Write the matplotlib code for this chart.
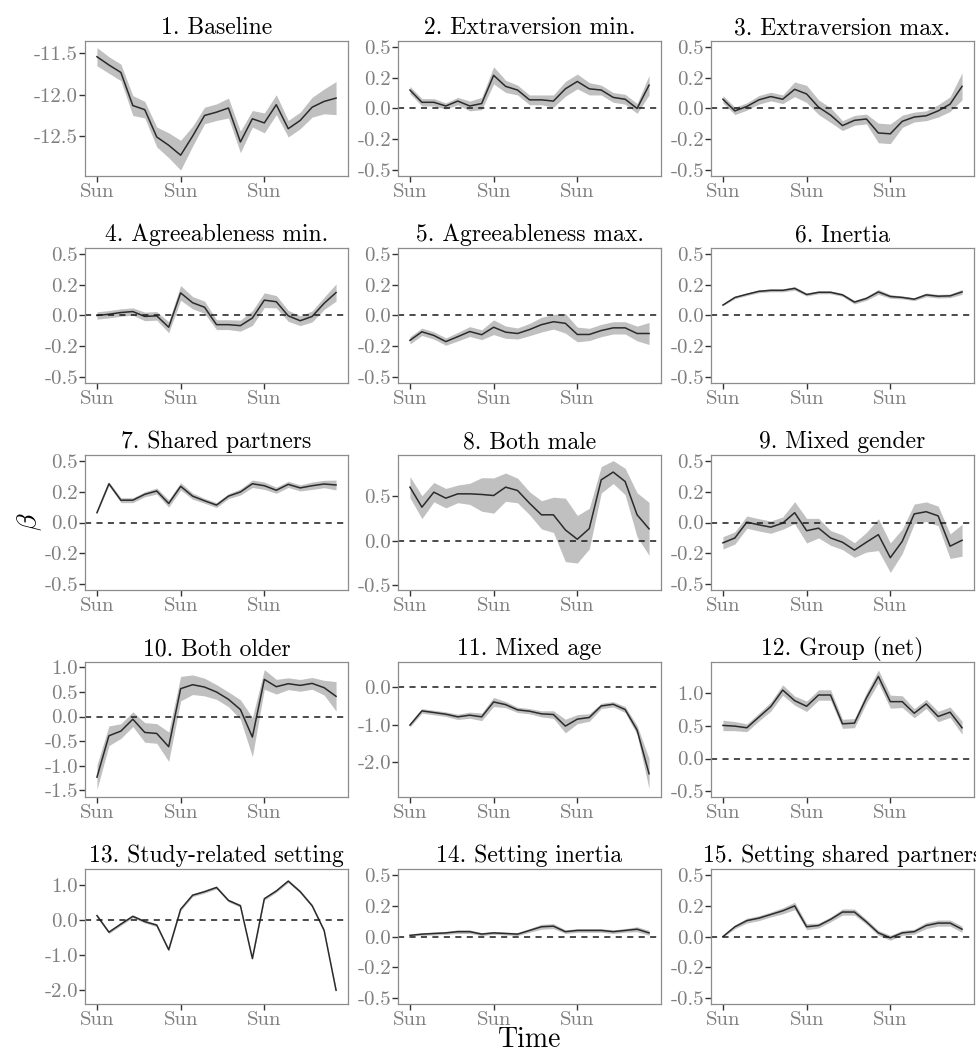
import numpy as np
import matplotlib
matplotlib.use("Agg")
import matplotlib.pyplot as plt

plt.rcParams['font.family'] = 'serif'
plt.rcParams['font.serif'] = ['cmr10', 'DejaVu Serif']
plt.rcParams['mathtext.fontset'] = 'cm'
plt.rcParams['axes.unicode_minus'] = False

days = np.arange(21)
sun_ticks = [0, 7, 14]
sun_labels = ['Sun', 'Sun', 'Sun']

titles = ['1. Baseline', '2. Extraversion min.', '3. Extraversion max.',
          '4. Agreeableness min.', '5. Agreeableness max.', '6. Inertia',
          '7. Shared partners', '8. Both male', '9. Mixed gender',
          '10. Both older', '11. Mixed age', '12. Group (net)',
          '13. Study-related setting', '14. Setting inertia', '15. Setting shared partners']

# estimates and half-widths of the grey bands
baseline = [-11.54, -11.64, -11.73, -12.13, -12.18, -12.51, -12.61, -12.73, -12.50, -12.25, -12.21,
            -12.16, -12.57, -12.29, -12.34, -12.12, -12.41, -12.31, -12.15, -12.08, -12.04]
baseline_hw = [0.11, 0.1, 0.1, 0.12, 0.1, 0.12, 0.15, 0.18, 0.12, 0.1, 0.1,
               0.12, 0.13, 0.1, 0.12, 0.12, 0.1, 0.1, 0.12, 0.15, 0.2]
extra_min = [0.15, 0.05, 0.05, 0.02, 0.06, 0.02, 0.04, 0.27, 0.18, 0.15, 0.07,
             0.07, 0.06, 0.16, 0.22, 0.16, 0.15, 0.09, 0.075, 0.0, 0.19]
extra_min_hw = [0.03, 0.03, 0.03, 0.025, 0.03, 0.04, 0.05, 0.07, 0.05, 0.04, 0.04,
                0.04, 0.05, 0.06, 0.06, 0.05, 0.04, 0.04, 0.04, 0.04, 0.08]
extra_max = [0.075, -0.02, 0.016, 0.07, 0.097, 0.075, 0.156, 0.118, 0.01, -0.054, -0.14,
             -0.097, -0.086, -0.2, -0.207, -0.105, -0.07, -0.06, -0.02, 0.035, 0.18]
extra_max_hw = [0.03, 0.03, 0.03, 0.035, 0.035, 0.035, 0.06, 0.07, 0.06, 0.06, 0.04,
                0.04, 0.04, 0.08, 0.08, 0.05, 0.04, 0.04, 0.05, 0.06, 0.11]
agree_min = [0.0, 0.01, 0.024, 0.032, -0.008, -0.003, -0.096, 0.184, 0.104, 0.067, -0.075,
             -0.075, -0.083, -0.021, 0.125, 0.112, -0.003, -0.043, -0.008, 0.099, 0.187]
agree_min_hw = [0.03, 0.03, 0.03, 0.03, 0.035, 0.035, 0.045, 0.06, 0.05, 0.05, 0.04,
                0.04, 0.045, 0.06, 0.06, 0.05, 0.045, 0.04, 0.045, 0.05, 0.07]
agree_max = [-0.203, -0.133, -0.163, -0.213, -0.173, -0.131, -0.157, -0.096, -0.136, -0.147, -0.115,
             -0.075, -0.051, -0.064, -0.155, -0.155, -0.123, -0.101, -0.101, -0.147, -0.147]
agree_max_hw = [0.03, 0.03, 0.03, 0.03, 0.035, 0.04, 0.04, 0.06, 0.05, 0.045, 0.05,
                0.06, 0.06, 0.08, 0.06, 0.05, 0.05, 0.05, 0.05, 0.06, 0.09]
inertia = [0.085, 0.147, 0.173, 0.197, 0.205, 0.205, 0.221, 0.171, 0.189, 0.189, 0.168,
           0.109, 0.139, 0.192, 0.155, 0.147, 0.133, 0.168, 0.157, 0.16, 0.192]
inertia_hw = [0.005, 0.01, 0.01, 0.012, 0.012, 0.012, 0.015, 0.012, 0.012, 0.012, 0.012,
              0.015, 0.015, 0.02, 0.015, 0.012, 0.012, 0.015, 0.015, 0.015, 0.02]
shared = [0.08, 0.316, 0.182, 0.182, 0.23, 0.257, 0.155, 0.295, 0.215, 0.177, 0.142,
          0.215, 0.249, 0.316, 0.3, 0.263, 0.311, 0.282, 0.3, 0.314, 0.306]
shared_hw = [0.005, 0.015, 0.02, 0.02, 0.02, 0.025, 0.03, 0.03, 0.025, 0.02, 0.02,
             0.02, 0.025, 0.03, 0.03, 0.025, 0.025, 0.025, 0.03, 0.03, 0.04]
both_male = [0.606, 0.379, 0.549, 0.481, 0.53, 0.53, 0.523, 0.511, 0.606, 0.568, 0.424,
             0.292, 0.292, 0.121, 0.015, 0.136, 0.689, 0.777, 0.67, 0.292, 0.133]
both_male_hw = [0.12, 0.13, 0.11, 0.11, 0.1, 0.12, 0.19, 0.2, 0.16, 0.14, 0.13,
                0.16, 0.2, 0.36, 0.27, 0.23, 0.15, 0.13, 0.15, 0.25, 0.3]
mixed_gender = [-0.166, -0.126, 0.003, -0.019, -0.038, -0.005, 0.08, -0.067, -0.046, -0.126, -0.161,
                -0.225, -0.161, -0.099, -0.287, -0.153, 0.07, 0.088, 0.054, -0.193, -0.145]
mixed_gender_hw = [0.05, 0.05, 0.05, 0.05, 0.05, 0.05, 0.09, 0.1, 0.08, 0.06, 0.06,
                   0.06, 0.08, 0.13, 0.12, 0.1, 0.08, 0.08, 0.08, 0.1, 0.13]
both_older = [-1.236, -0.392, -0.297, -0.054, -0.324, -0.345, -0.615, 0.568, 0.649, 0.601, 0.5,
              0.351, 0.142, -0.419, 0.757, 0.608, 0.669, 0.635, 0.676, 0.588, 0.412]
both_older_hw = [0.25, 0.2, 0.15, 0.15, 0.2, 0.2, 0.3, 0.25, 0.2, 0.18, 0.15,
                 0.15, 0.2, 0.4, 0.2, 0.15, 0.12, 0.12, 0.12, 0.15, 0.3]
mixed_age = [-1.013, -0.638, -0.681, -0.725, -0.795, -0.751, -0.795, -0.402, -0.472, -0.611, -0.646,
             -0.716, -0.734, -1.039, -0.856, -0.812, -0.507, -0.463, -0.603, -1.144, -2.297]
mixed_age_hw = [0.05, 0.06, 0.06, 0.06, 0.07, 0.08, 0.1, 0.12, 0.08, 0.07, 0.07,
                0.08, 0.1, 0.18, 0.12, 0.1, 0.07, 0.07, 0.08, 0.12, 0.4]
group_net = [0.508, 0.497, 0.472, 0.635, 0.797, 1.051, 0.888, 0.802, 0.975, 0.975, 0.533,
             0.543, 0.929, 1.259, 0.873, 0.873, 0.695, 0.838, 0.645, 0.711, 0.472]
group_net_hw = [0.08, 0.07, 0.06, 0.06, 0.07, 0.08, 0.07, 0.08, 0.08, 0.08, 0.07,
                0.07, 0.08, 0.1, 0.1, 0.09, 0.07, 0.07, 0.08, 0.08, 0.1]
study = [0.12, -0.35, -0.12, 0.1, -0.05, -0.15, -0.85, 0.3, 0.7, 0.8, 0.92,
         0.55, 0.4, -1.1, 0.6, 0.82, 1.1, 0.8, 0.4, -0.3, -2.0]
study_hw = [0.04] * 21
set_inertia = [0.01, 0.02, 0.025, 0.03, 0.04, 0.04, 0.02, 0.03, 0.025, 0.02, 0.05,
               0.08, 0.085, 0.04, 0.05, 0.05, 0.05, 0.04, 0.05, 0.06, 0.03]
set_inertia_hw = [0.005, 0.01, 0.012, 0.012, 0.015, 0.015, 0.012, 0.012, 0.012, 0.012, 0.015,
                  0.02, 0.02, 0.015, 0.015, 0.015, 0.015, 0.015, 0.015, 0.02, 0.02]
set_shared = [0.0, 0.08, 0.13, 0.15, 0.18, 0.21, 0.25, 0.08, 0.09, 0.14, 0.2,
              0.2, 0.12, 0.03, -0.01, 0.03, 0.04, 0.09, 0.11, 0.11, 0.06]
set_shared_hw = [0.005, 0.015, 0.02, 0.02, 0.02, 0.025, 0.03, 0.025, 0.02, 0.02, 0.025,
                 0.025, 0.02, 0.02, 0.02, 0.02, 0.02, 0.025, 0.025, 0.025, 0.025]

small_ticks = [-0.5, -0.25, 0.0, 0.25, 0.5]
small_labels = ['-0.5', '-0.2', '0.0', '0.2', '0.5']

panels = [
    (baseline, baseline_hw, [-12.5, -12.0, -11.5], ['-12.5', '-12.0', '-11.5'], (-12.98, -11.35)),
    (extra_min, extra_min_hw, small_ticks, small_labels, (-0.55, 0.55)),
    (extra_max, extra_max_hw, small_ticks, small_labels, (-0.55, 0.55)),
    (agree_min, agree_min_hw, small_ticks, small_labels, (-0.55, 0.55)),
    (agree_max, agree_max_hw, small_ticks, small_labels, (-0.55, 0.55)),
    (inertia, inertia_hw, small_ticks, small_labels, (-0.55, 0.55)),
    (shared, shared_hw, small_ticks, small_labels, (-0.55, 0.55)),
    (both_male, both_male_hw, [-0.5, 0.0, 0.5], ['-0.5', '0.0', '0.5'], (-0.56, 0.97)),
    (mixed_gender, mixed_gender_hw, small_ticks, small_labels, (-0.55, 0.55)),
    (both_older, both_older_hw, [-1.5, -1.0, -0.5, 0.0, 0.5, 1.0],
     ['-1.5', '-1.0', '-0.5', '0.0', '0.5', '1.0'], (-1.64, 1.11)),
    (mixed_age, mixed_age_hw, [-2.0, -1.0, 0.0], ['-2.0', '-1.0', '0.0'], (-2.91, 0.65)),
    (group_net, group_net_hw, [-0.5, 0.0, 0.5, 1.0], ['-0.5', '0.0', '0.5', '1.0'], (-0.59, 1.48)),
    (study, study_hw, [-2.0, -1.0, 0.0, 1.0], ['-2.0', '-1.0', '0.0', '1.0'], (-2.39, 1.44)),
    (set_inertia, set_inertia_hw, small_ticks, small_labels, (-0.55, 0.55)),
    (set_shared, set_shared_hw, small_ticks, small_labels, (-0.55, 0.55)),
]

fig, axes = plt.subplots(5, 3, figsize=(9.76, 10.52), dpi=100)
plt.subplots_adjust(left=85 / 976, right=974 / 976, top=1 - 41 / 1052, bottom=1 - 1004 / 1052,
                    wspace=0.19, hspace=0.535)

for i, ax in enumerate(axes.flat):
    est, hw, yt, yl, lim = panels[i]
    est = np.array(est)
    hw = np.array(hw)
    ax.fill_between(days, est - hw, est + hw, color='#bfc0bf', lw=0)
    ax.plot(days, est, color='#2b2b2b', lw=1.1)
    if i > 0:
        ax.axhline(0, color='#1a1a1a', lw=1.1, ls=(0, (4, 3.5)))
    ax.set_xlim(-1, 21)
    ax.set_ylim(*lim)
    ax.set_xticks(sun_ticks)
    ax.set_xticklabels(sun_labels)
    ax.set_yticks(yt)
    ax.set_yticklabels(yl)
    ax.set_title(titles[i], fontsize=17, color='black', pad=5)
    ax.tick_params(direction='out', length=4, width=1, color='#333333',
                   labelcolor='#7f7f7f', labelsize=15, pad=1)
    for s in ax.spines.values():
        s.set_color('#8c8c8c')
        s.set_linewidth(0.9)

fig.text(30 / 976, 1 - 522 / 1052, r'$\beta$', fontsize=20, rotation=90, ha='center', va='center')
fig.text(530 / 976, 1 - 1040 / 1052, 'Time', fontsize=20, ha='center', va='center')

plt.savefig('out.png', dpi=100)
